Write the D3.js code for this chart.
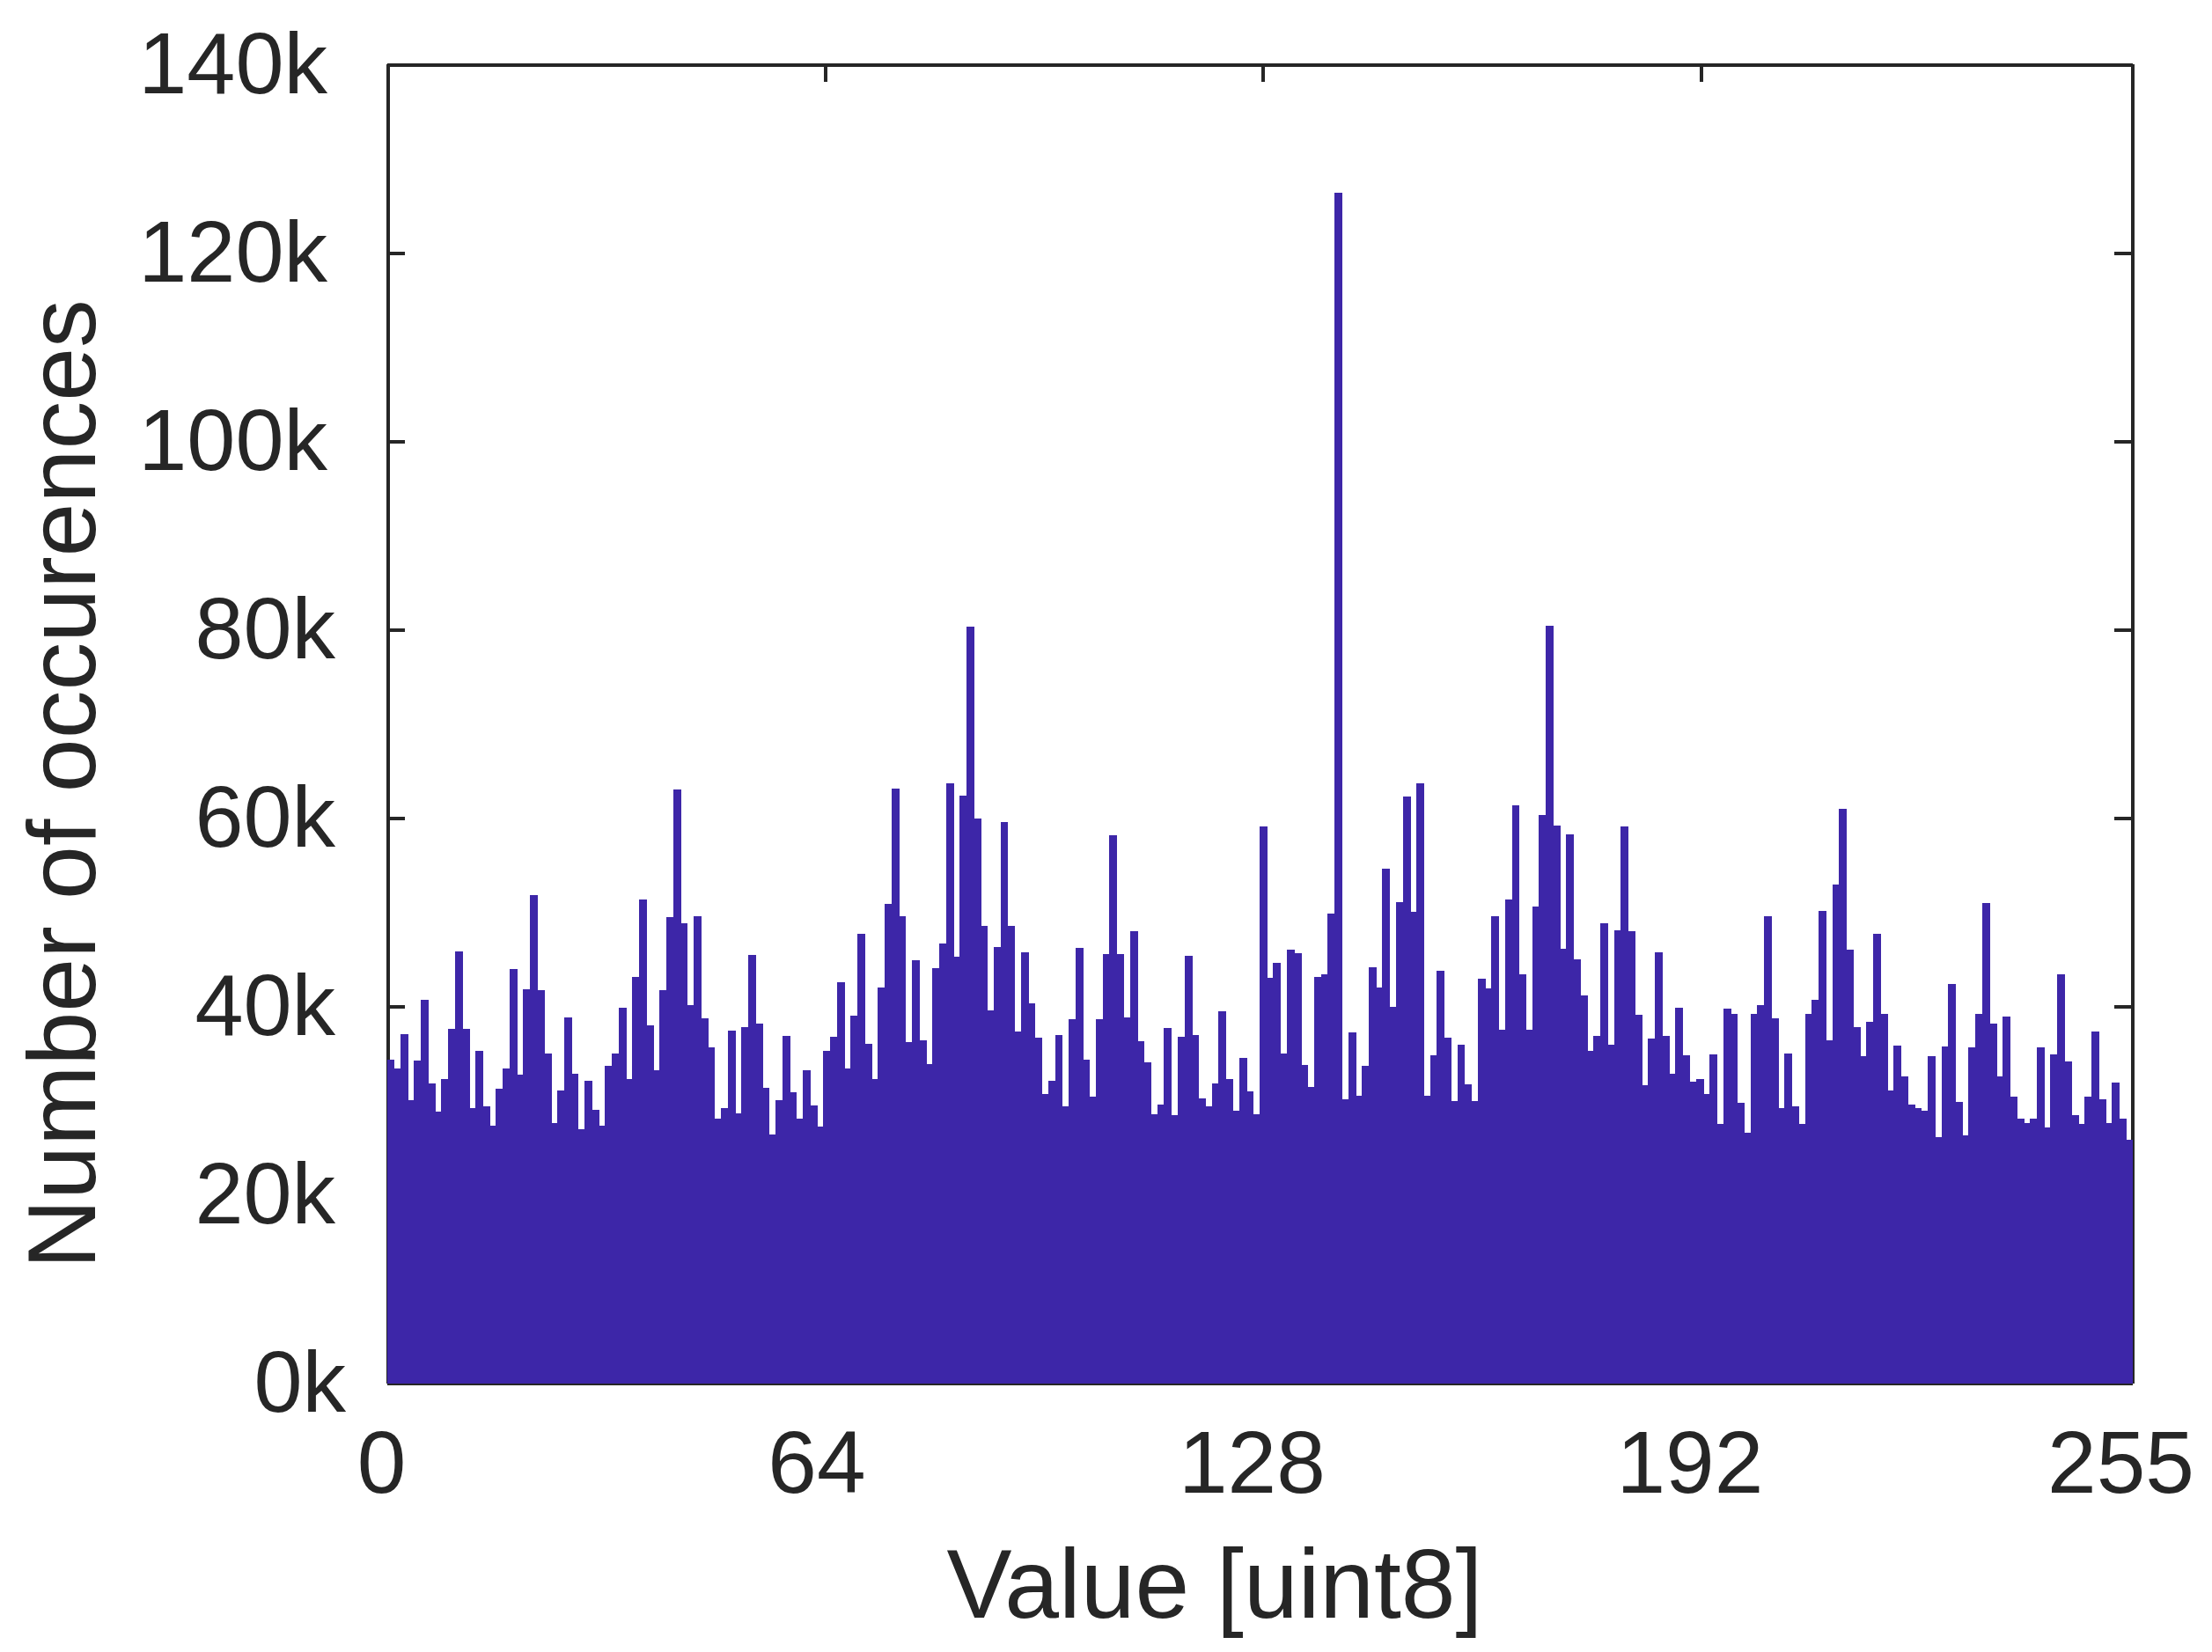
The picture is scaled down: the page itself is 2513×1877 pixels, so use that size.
<!DOCTYPE html>
<html>
<head>
<meta charset="utf-8">
<script src="https://cdn.jsdelivr.net/npm/d3@7"></script>
<style>
    body { margin: 0; background: white; }
    text { font-family: "Liberation Sans", sans-serif; fill: #262626; }
</style>
</head>
<body>
<div id="wrapper"></div>
<script>
// occurences per uint8 value, in thousands
const counts = [
    34.3, 33.4, 37.0, 30.0, 34.2, 40.7, 31.8, 28.8, 32.2, 37.6, 45.8, 37.6, 29.2, 35.2, 29.3, 27.3,
    31.2, 33.4, 43.9, 32.7, 41.8, 51.8, 41.7, 35.0, 27.6, 31.0, 38.8, 32.8, 26.9, 32.1, 29.0, 27.3,
    33.6, 35.0, 39.8, 32.2, 43.1, 51.3, 37.9, 33.2, 41.7, 49.4, 63.0, 48.8, 40.1, 49.5, 38.7, 35.6,
    28.0, 29.2, 37.4, 28.6, 37.8, 45.4, 38.1, 31.3, 26.4, 30.0, 36.8, 30.8, 28.0, 33.2, 29.4, 27.2,
    35.2, 36.7, 42.5, 33.4, 39.0, 47.7, 36.0, 32.2, 42.0, 50.8, 63.1, 49.5, 36.2, 44.9, 36.4, 33.8,
    44.0, 46.6, 63.6, 45.2, 62.3, 80.3, 59.9, 48.5, 39.5, 46.3, 59.5, 48.5, 37.3, 45.7, 40.3, 36.6,
    30.7, 32.1, 36.9, 29.3, 38.6, 46.2, 34.3, 30.4, 38.6, 45.5, 58.1, 45.5, 38.8, 47.9, 36.3, 34.0,
    28.5, 29.5, 37.7, 28.4, 36.7, 45.3, 36.9, 30.2, 29.3, 31.8, 39.4, 32.2, 28.9, 34.5, 30.9, 28.5,
    59.1, 43.0, 44.6, 35.0, 46.0, 45.6, 33.7, 31.4, 43.1, 43.4, 49.8, 126.4, 30.1, 37.2, 30.5, 33.6,
    44.1, 42.0, 54.6, 39.9, 51.0, 62.2, 50.0, 63.6, 30.5, 34.8, 43.7, 36.6, 29.9, 35.9, 31.7, 29.9,
    42.9, 41.9, 49.5, 37.5, 51.3, 61.3, 43.4, 37.5, 50.6, 60.3, 80.4, 59.2, 46.1, 58.2, 45.0, 41.1,
    35.2, 36.8, 48.8, 35.9, 48.0, 59.1, 47.9, 39.1, 31.6, 36.5, 45.7, 36.8, 32.8, 39.8, 34.8, 32.0,
    32.2, 30.7, 34.9, 27.5, 39.7, 39.2, 29.7, 26.5, 39.2, 40.1, 49.5, 38.7, 29.2, 35.0, 29.3, 27.5,
    39.2, 40.7, 50.1, 36.4, 52.9, 60.9, 46.0, 37.8, 34.7, 38.3, 47.7, 39.2, 31.0, 35.8, 32.5, 29.5,
    29.2, 28.9, 34.7, 26.1, 35.7, 42.3, 29.8, 26.3, 35.6, 39.2, 50.9, 38.1, 32.5, 38.9, 30.4, 28.0,
    27.6, 28.0, 35.6, 27.1, 34.9, 43.4, 34.1, 28.4, 27.5, 30.4, 37.3, 30.1, 27.6, 31.9, 28.0, 25.8
]
const xTicks = [0, 64, 128, 192, 255]
const yTicks = [0, 20, 40, 60, 80, 100, 120, 140]
const xLabel = "Value [uint8]"
const yLabel = "Number of occurences"

function drawHistogram() {
    // Dimensions
    const dimensions = {
        width: 2513,
        height: 1877,
        left: 440,
        right: 2422,
        top: 73,
        bottom: 1571,
        tickLength: 20,
        barEdge: 0.6, // bars are a bit wider than their bin, neighbours overlap
    }

    const svg = d3.select("#wrapper")
        .append("svg")
            .attr("width", dimensions.width)
            .attr("height", dimensions.height)
            .style("display", "block")

    // Create scales
    const xScale = d3.scaleLinear()
        .domain([0, 255])
        .range([dimensions.left, dimensions.right])

    // the 256 bins run one pixel past the last tick
    const binScale = d3.scaleBand()
        .domain(d3.range(counts.length))
        .range([dimensions.left, dimensions.right + 1])

    const yScale = d3.scaleLinear()
        .domain([0, 140])
        .range([dimensions.bottom, dimensions.top])

    // Draw peripherals, all four sides have inward ticks
    const styleAxis = g => {
        g.selectAll("path, line")
            .attr("stroke", "#262626")
            .attr("stroke-width", 4)
            .attr("shape-rendering", "crispEdges")
    }

    const xAxis = svg.append("g")
        .attr("transform", `translate(0, ${dimensions.bottom})`)
        .call(d3.axisBottom(xScale).tickValues(xTicks)
            .tickSizeInner(-dimensions.tickLength).tickSizeOuter(0))
        .call(styleAxis)
    xAxis.selectAll("text")
        .attr("font-size", 100)
        .attr("text-anchor", "middle")
        .attr("x", d => -(4 + String(d).length * 3))
        .attr("y", 125)
        .attr("dy", 0)

    const yAxis = svg.append("g")
        .attr("transform", `translate(${dimensions.left}, 0)`)
        .call(d3.axisLeft(yScale).tickValues(yTicks).tickFormat(d => d + "k")
            .tickSizeInner(-dimensions.tickLength).tickSizeOuter(0))
        .call(styleAxis)
    yAxis.selectAll("text")
        .attr("font-size", 99)
        .attr("text-anchor", "end")
        .attr("x", d => d >= 100 ? -68 : d > 0 ? -59 : -47) // shorter labels sit closer to the axis
        .attr("y", 32)
        .attr("dy", 0)

    svg.append("g")
        .attr("transform", `translate(0, ${dimensions.top})`)
        .call(d3.axisTop(xScale).tickValues(xTicks).tickFormat("")
            .tickSizeInner(-dimensions.tickLength).tickSizeOuter(0))
        .call(styleAxis)

    svg.append("g")
        .attr("transform", `translate(${dimensions.right}, 0)`)
        .call(d3.axisRight(yScale).tickValues(yTicks).tickFormat("")
            .tickSizeInner(-dimensions.tickLength).tickSizeOuter(0))
        .call(styleAxis)

    // Draw data, on top of the frame like in the original
    const lastBin = counts.length - 1
    svg.append("g")
        .attr("shape-rendering", "crispEdges")
        .selectAll("rect")
        .data(counts)
        .join("rect")
            .attr("x", (d, i) => binScale(i) - (i > 0 ? dimensions.barEdge : 0))
            .attr("width", (d, i) => binScale.bandwidth()
                + (i > 0 ? dimensions.barEdge : 0)
                + (i < lastBin ? dimensions.barEdge : 0))
            .attr("y", d => yScale(d))
            .attr("height", d => yScale(0) - yScale(d) + 1)
            .attr("fill", "#3d26a8")

    svg.append("text")
        .attr("x", 1380)
        .attr("y", 1838)
        .attr("font-size", 111)
        .attr("text-anchor", "middle")
        .text(xLabel)

    svg.append("text")
        .attr("transform", "translate(108, 891) rotate(-90)")
        .attr("font-size", 109.5)
        .attr("text-anchor", "middle")
        .text(yLabel)
}
drawHistogram()
</script>
</body>
</html>
